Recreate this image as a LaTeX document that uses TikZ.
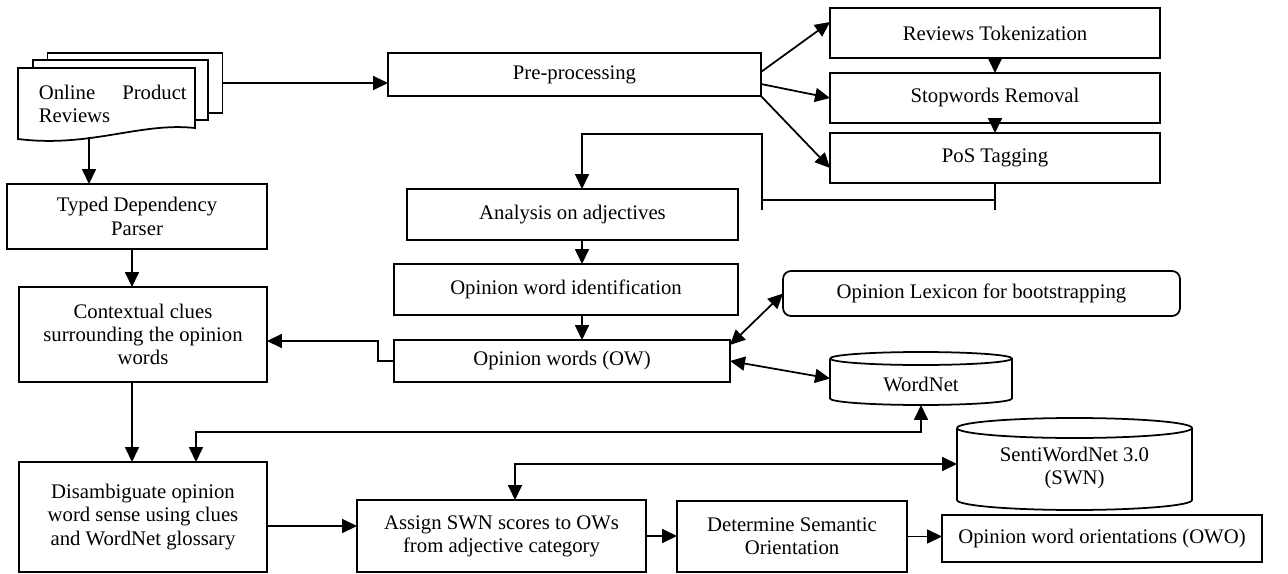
\documentclass[tikz,border=0pt]{standalone}
\usepackage{fontspec}
\setmainfont{Liberation Serif}
\usetikzlibrary{arrows.meta}

\begin{document}
\begin{tikzpicture}[x=0.02cm, y=-0.02cm, >={Triangle[length=0.3cm,width=0.28cm]},
    font=\fontsize{11.8}{13.2}\selectfont, line width=1pt,
    box/.style={draw, rectangle, inner sep=0pt, outer sep=0pt, align=center},
    rbox/.style={box, rounded corners=0.16cm},
    sheet/.style={draw, fill=white, inner sep=0pt, outer sep=0pt,
                  minimum width=3.5cm, minimum height=1.2cm},
    drum/.style={inner sep=0pt, outer sep=0pt, align=center}]

    % Picture is laid out in pixel units of the original figure (1288 x 574)
    \useasboundingbox (0,0) rectangle (1288,574);

    % Guide coordinates for the vertical arrow lines
    \coordinate (spine) at (582,0);   % middle column
    \coordinate (lspine) at (132,0);  % left column
    \coordinate (wnx) at (196,0);     % WordNet link into disambiguation
    \coordinate (swnx) at (515,0);    % SWN link into scoring

    % --- DOCUMENT STACK ---
    \node[sheet] (sheetc) at (135,83) {};
    \node[sheet] (sheetb) at (120.5,90) {};
    \draw[fill=white] (18,68) -- (195,68) -- (195,128)
        .. controls (140,122) and (90,148) .. (18,139) -- cycle;
    \coordinate (wavebot) at (89,137);
    \node[anchor=west, align=left, inner sep=0pt] (reviews) at (38,104)
        {Online\hspace{1.3em}Product\\Reviews};

    % --- PRE-PROCESSING BRANCH ---
    \node[box, minimum width=7.46cm, minimum height=0.86cm] (prep) at (574.5,74.5) {Pre-processing};
    \node[box, minimum width=6.6cm, minimum height=1cm] (tok) at (995,33) {Reviews Tokenization};
    \node[box, minimum width=6.6cm, minimum height=1cm] (stop) at (995,98) {Stopwords Removal};
    \node[box, minimum width=6.6cm, minimum height=1cm] (pos) at (995,158) {PoS Tagging};

    % --- OPINION WORD COLUMN ---
    \node[box, minimum width=6.62cm, minimum height=1.02cm] (adj) at (572.5,214.5) {Analysis on adjectives};
    \node[box, minimum width=6.88cm, minimum height=1.02cm] (owi) at (566,289.5) {Opinion word identification};
    \node[box, minimum width=6.72cm, minimum height=0.84cm] (ow) at (562,361) {Opinion words (OW)};
    \node[rbox, minimum width=7.94cm, minimum height=0.9cm] (lex) at (981.5,293.5) {Opinion Lexicon for bootstrapping};

    % --- LEFT COLUMN ---
    \node[box, minimum width=5.2cm, minimum height=1.3cm] (tdp) at (137,216.5) {Typed Dependency\\Parser};
    \node[box, minimum width=4.96cm, minimum height=1.9cm] (ctx) at (143,334.5) {Contextual clues\\surrounding the opinion\\words};
    \node[box, minimum width=4.96cm, minimum height=2.2cm] (dis) at (143,517) {Disambiguate opinion\\word sense using clues\\and WordNet glossary};

    % --- BOTTOM ROW ---
    \node[box, minimum width=5.78cm, minimum height=1.44cm] (asg) at (501.5,536) {Assign SWN scores to OWs\\from adjective category};
    \node[box, minimum width=4.6cm, minimum height=1.42cm] (sem) at (792,536.5) {Determine Semantic\\Orientation};
    \node[box, minimum width=6.4cm, minimum height=0.94cm] (owo) at (1102,538.5) {Opinion word orientations (OWO)};

    % --- DATABASES (drawn as cylinders round plain nodes) ---
    \node[drum, minimum width=3.64cm, minimum height=1.06cm] (wn) at (921,378.5) {\\[2pt]WordNet};
    \draw ([yshift=-0.13cm]wn.north west) -- ([yshift=0.13cm]wn.south west)
        arc[start angle=180, end angle=360, x radius=1.82cm, y radius=0.13cm]
        -- ([yshift=-0.13cm]wn.north east)
        arc[start angle=0, end angle=180, x radius=1.82cm, y radius=0.13cm];
    \draw ([yshift=-0.13cm]wn.north west)
        arc[start angle=180, end angle=360, x radius=1.82cm, y radius=0.13cm];

    \node[drum, minimum width=4.7cm, minimum height=1.84cm] (swn) at (1074.5,464) {\\SentiWordNet 3.0\\(SWN)};
    \draw ([yshift=-0.2cm]swn.north west) -- ([yshift=0.2cm]swn.south west)
        arc[start angle=180, end angle=360, x radius=2.35cm, y radius=0.2cm]
        -- ([yshift=-0.2cm]swn.north east)
        arc[start angle=0, end angle=180, x radius=2.35cm, y radius=0.2cm];
    \draw ([yshift=-0.2cm]swn.north west)
        arc[start angle=180, end angle=360, x radius=2.35cm, y radius=0.2cm];

    % --- CONNECTORS ---
    \draw[->] (sheetc.east) -- (prep.west |- sheetc.east);
    \draw[->] ([yshift=0.05cm]prep.east) -- ([yshift=0.22cm]tok.west);
    \draw[->] ([yshift=-0.19cm]prep.east) -- (stop.west);
    \draw[->] (prep.south east) -- ([yshift=-0.2cm]pos.west);
    \draw[->] (tok.south) -- (stop.north);
    \draw[->] (stop.south) -- (pos.north);

    % tagged reviews loop back into the adjective analysis
    \coordinate (tagjoin) at (762,200);
    \coordinate (tagfoot) at (762,210);
    \coordinate (tagtop) at (762,134);
    \draw (pos.south) -- ++(0,27);
    \draw (pos.south |- tagjoin) -- (tagjoin);
    \draw[->] (tagfoot) -- (tagtop) -| (spine |- adj.north);

    \draw[->] (spine |- adj.south) -- (spine |- owi.north);
    \draw[->] (spine |- owi.south) -- (spine |- ow.north);
    \draw[<->] ([yshift=-0.1cm]ow.north east) -- (lex.west);
    \draw[<->] (ow.east) -- (wn.west);
    \draw[->] (ow.west) -- ++(-16,0) |- (ctx.east |- 0,341);

    \draw[->] (wavebot) -- (wavebot |- tdp.north);
    \draw[->] (lspine |- tdp.south) -- (lspine |- ctx.north);
    \draw[->] (lspine |- ctx.south) -- (lspine |- dis.north);

    \draw[<->] (wn.south) |- (196,432) -- (wnx |- dis.north);
    \draw[<->] (swn.west) -| (swnx |- asg.north);

    \draw[->] (dis.east |- 0,526) -- (asg.west |- 0,526);
    \draw[->] (asg.east) -- (sem.west |- asg.east);
    \draw[->] (sem.east) -- (owo.west |- sem.east);
\end{tikzpicture}
\end{document}
